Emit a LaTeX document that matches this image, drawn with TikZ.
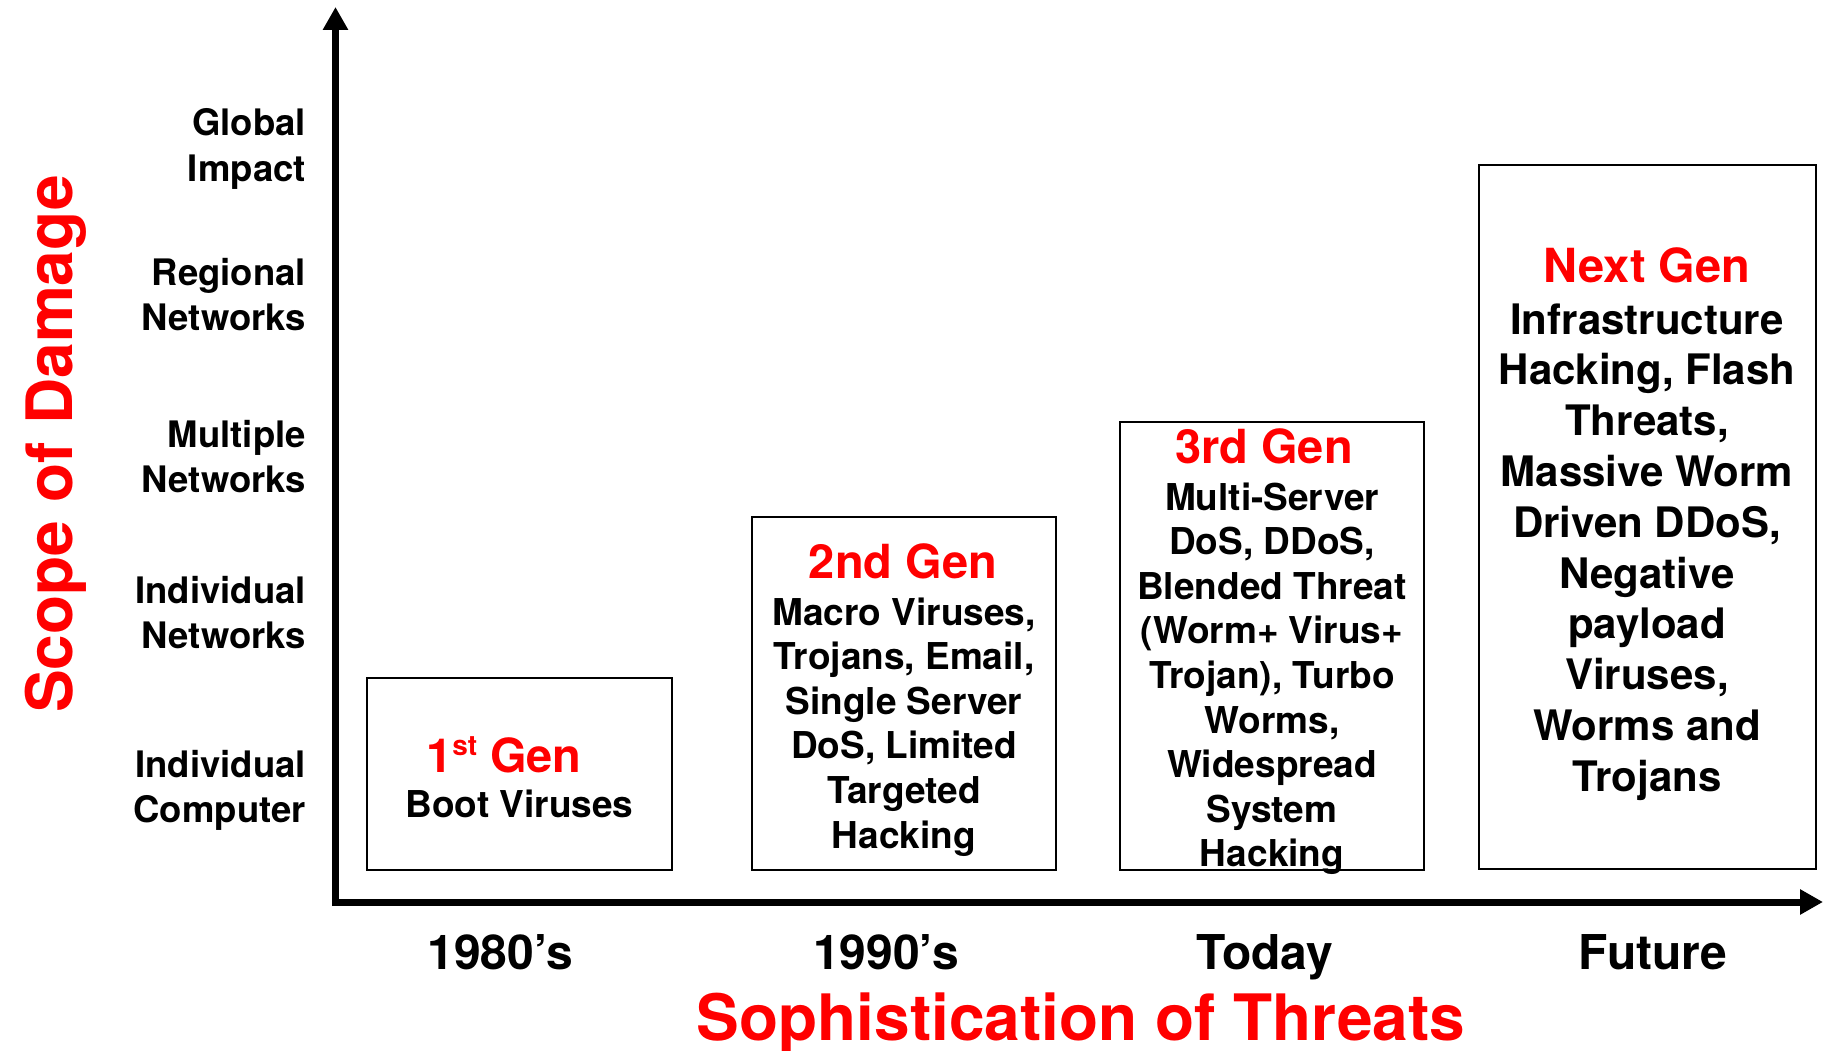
\documentclass[tikz,border=0pt]{standalone}
\usepackage{fontspec}
\setmainfont{TeX Gyre Heros}
\usetikzlibrary{arrows.meta}
\definecolor{genred}{RGB}{255,0,0}
\newcommand{\fsz}[2]{\fontsize{#1}{#2}\selectfont\bfseries}
\newcommand{\stack}[1]{\begin{tabular}[t]{@{}c@{}}#1\end{tabular}}
\newcommand{\rstack}[1]{\begin{tabular}[t]{@{}r@{}}#1\end{tabular}}

\begin{document}
\begin{tikzpicture}[x=1pt,y=-1pt,
  axis/.style={line width=7pt,-{Triangle[length=23pt,width=24pt]}},
  genbox/.style={draw,line width=2pt,rectangle,inner sep=0pt,outer sep=0pt},
  scalelbl/.style={anchor=base east,inner sep=0pt,font=\fsz{36.5}{45.5}},
  axtitle/.style={inner sep=0pt,text=genred,font=\fsz{64}{70}},
  era/.style={anchor=base,inner sep=0pt,font=\fsz{48}{52}},
  genhead/.style={anchor=base,inner sep=0pt,text=genred,font=\fsz{47}{52}},
  genbody/.style={anchor=base,inner sep=0pt,font=\fsz{37}{44.6}},
  genbodybig/.style={anchor=base,inner sep=0pt,font=\fsz{42}{50.8}}]

\useasboundingbox (0,0) rectangle (1828,1051);

% axes
\coordinate (yfoot) at (335.5,906);
\coordinate (ytip) at (335.5,7);
\coordinate (xfoot) at (332,902);
\coordinate (xtip) at (1823,902);
\draw[axis] (yfoot) -- (ytip);
\draw[axis] (xfoot) -- (xtip);

% scope levels
\node[scalelbl] (global)   at (306,136) {\rstack{Global\\Impact}};
\node[scalelbl] (regional) at (306,285) {\rstack{Regional\\Networks}};
\node[scalelbl] (multiple) at (306,447) {\rstack{Multiple\\Networks}};
\node[scalelbl] (indnet)   at (306,603) {\rstack{Individual\\Networks}};
\node[scalelbl] (indcomp)  at (306,777) {\rstack{Individual\\Computer}};

% axis titles
\node[axtitle,rotate=90,anchor=base] (ytitle) at (72,444) {Scope of Damage};
\node[axtitle,anchor=base] (xtitle) at (1081,1040) {Sophistication of Threats};

% eras
\node[era] (e80)    at (500.5,969) {1980’s};
\node[era] (e90)    at (886,969)   {1990’s};
\node[era] (today)  at (1265,969)  {Today};
\node[era] (future) at (1653,969)  {Future};

% generation boxes
\node[genbox,minimum width=305pt,minimum height=192pt] (b1) at (519.5,774) {};
\node[genbox,minimum width=304pt,minimum height=353pt] (b2) at (904,693.5) {};
\node[genbox,minimum width=304pt,minimum height=448pt] (b3) at (1272,646) {};
\node[genbox,minimum width=337pt,minimum height=704pt] (b4) at (1647.5,517) {};

% first generation
\node[genhead,anchor=base west] (h1) at (426,772)
  {1\raisebox{17pt}{\fontsize{28}{28}\selectfont st} Gen};
\node[genbody] (t1) at (519.5,817) {Boot Viruses};

% second generation
\node[genhead] (h2) at (903,578) {2nd Gen};
\node[genbody] (t2) at (904,625)
  {\stack{Macro Viruses,\\Trojans, Email,\\Single Server\\DoS, Limited\\Targeted\\Hacking}};

% third generation
\node[genhead] (h3) at (1264,463) {3rd Gen};
\node[genbody] (t3) at (1272,510)
  {\stack{Multi-Server\\DoS, DDoS,\\Blended Threat\\(Worm+ Virus+\\Trojan), Turbo\\Worms,\\Widespread\\System\\Hacking}};

% next generation
\node[genhead] (h4) at (1647,282) {Next Gen};
\node[genbodybig] (t4) at (1647,334)
  {\stack{Infrastructure\\Hacking, Flash\\Threats,\\Massive Worm\\Driven DDoS,\\Negative\\payload\\Viruses,\\Worms and\\Trojans}};

\end{tikzpicture}
\end{document}
